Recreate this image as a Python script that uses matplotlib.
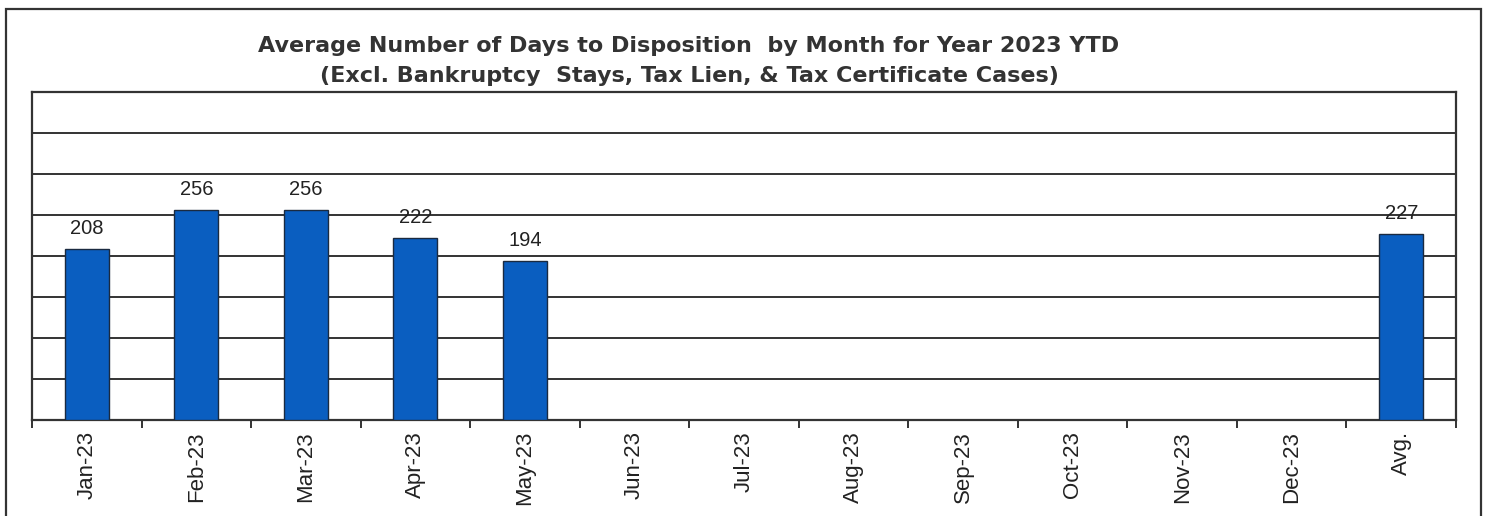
import matplotlib
matplotlib.use("Agg")
import matplotlib.pyplot as plt
from matplotlib.patches import Rectangle
import numpy as np

plt.rcParams['font.family'] = ['Liberation Sans', 'DejaVu Sans']

categories = ["Jan-23", "Feb-23", "Mar-23", "Apr-23", "May-23", "Jun-23", "Jul-23",
              "Aug-23", "Sep-23", "Oct-23", "Nov-23", "Dec-23", "Avg."]
values = [208, 256, 256, 222, 194, None, None, None, None, None, None, None, 227]
title_lines = ["Average Number of Days to Disposition  by Month for Year 2023 YTD",
               "(Excl. Bankruptcy  Stays, Tax Lien, & Tax Certificate Cases)"]

W, H = 1486, 516
fig = plt.figure(figsize=(W / 100, H / 100), dpi=100)
fig.patch.set_facecolor("white")

# outer frame
fig.patches.append(Rectangle((6 / W, -0.05), (1481 - 6) / W, 1.05 - 9 / H,
                             transform=fig.transFigure, fill=False,
                             edgecolor="#333333", linewidth=1.6, clip_on=False))

ax = fig.add_axes([32 / W, 1 - 420 / H, (1456 - 32) / W, (420 - 92) / H])
x = np.arange(len(categories))
xs = [i for i, v in enumerate(values) if v is not None]
vs = [v for v in values if v is not None]
ax.bar(xs, vs, width=0.40, color="#0a5ec0", edgecolor="#1a2a40", linewidth=1.0, zorder=3)
for xi, v in zip(xs, vs):
    ax.annotate(str(v), (xi, v), xytext=(0, 8), textcoords="offset points",
                ha="center", va="bottom", fontsize=14.5, color="#222222")

ax.set_xlim(-0.5, len(categories) - 0.5)
ax.set_ylim(0, 400)
ax.set_yticks(np.arange(0, 401, 50))
ax.yaxis.grid(True, color="#333333", linewidth=1.4, zorder=0)
ax.set_yticklabels([])
ax.tick_params(axis="y", length=0)
ax.set_xticks(np.arange(-0.5, len(categories), 1.0), minor=False)
ax.set_xticklabels([])
ax.set_xticks(x, minor=True)
ax.set_xticklabels(categories, minor=True, rotation=90, fontsize=16, color="#222222")
ax.tick_params(axis="x", which="major", direction="out", length=6, width=1.4, color="#333333")
ax.tick_params(axis="x", which="minor", length=0, pad=8)
for s in ax.spines.values():
    s.set_color("#333333")
    s.set_linewidth(1.6)

fig.text(689 / W, 1 - 46 / H, title_lines[0], ha="center", va="center",
         fontsize=16, fontweight="bold", color="#333333", family="DejaVu Sans")
fig.text(689 / W, 1 - 76 / H, title_lines[1], ha="center", va="center",
         fontsize=16, fontweight="bold", color="#333333", family="DejaVu Sans")

fig.savefig("out.png", dpi=100)
